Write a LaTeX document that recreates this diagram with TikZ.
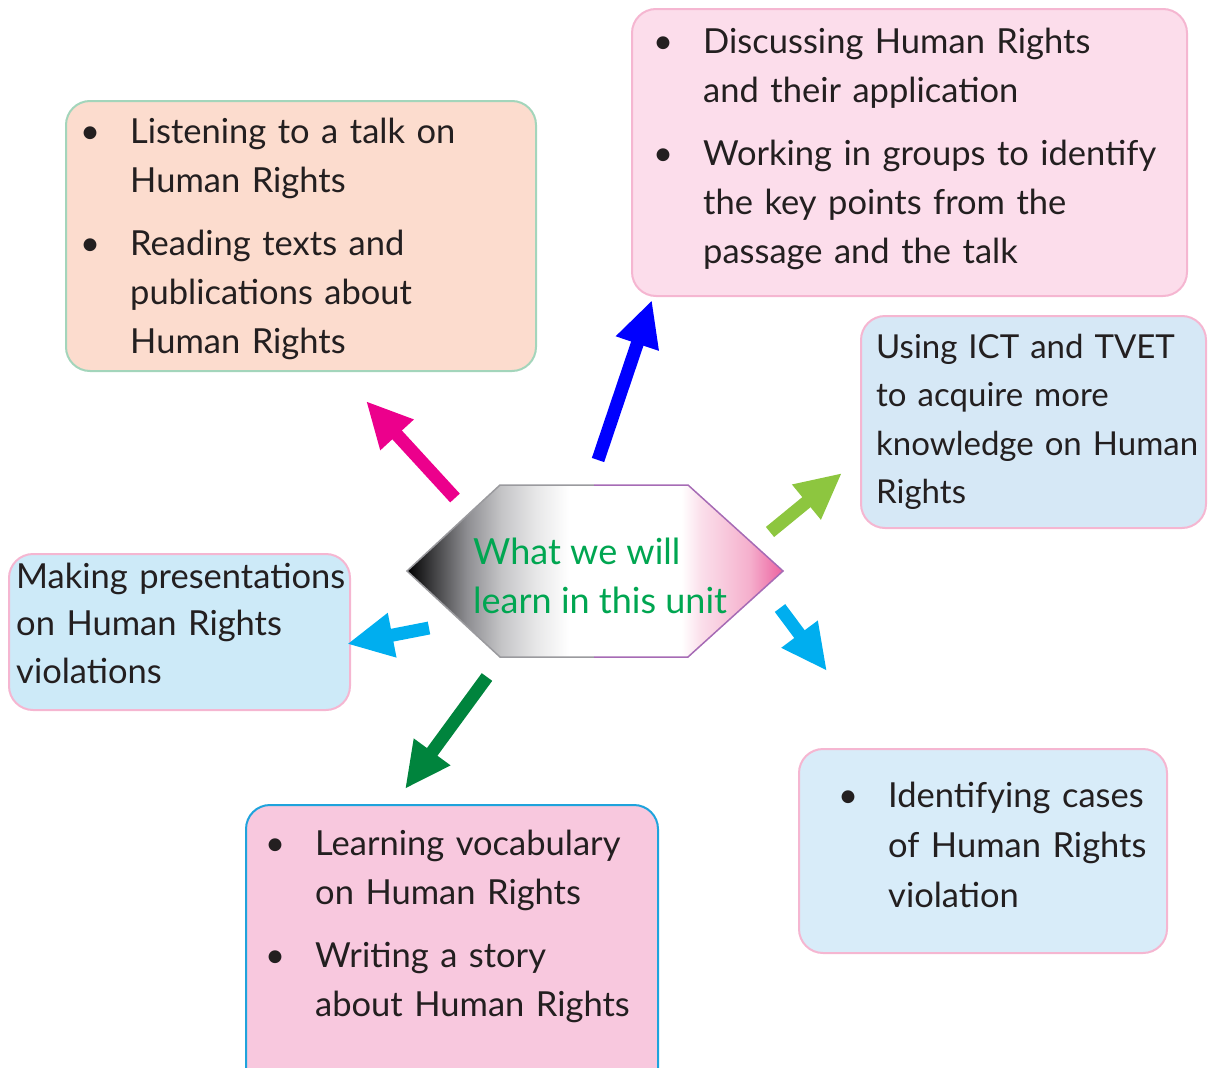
\documentclass[tikz,border=0pt]{standalone}
\usepackage{fontspec}
\setmainfont{Lato}
\usetikzlibrary{arrows.meta,positioning}
\usepackage{xcolor}
\definecolor{txtdark}{HTML}{231F20}
\definecolor{hubgreen}{HTML}{00A651}
\definecolor{peach}{HTML}{FCDCCE}
\definecolor{mint}{HTML}{A3D5BB}
\definecolor{rosefill}{HTML}{FCDDEB}
\definecolor{roseline}{HTML}{F5B6D1}
\definecolor{iceblue}{HTML}{D6E8F6}
\definecolor{skyfill}{HTML}{CDEAF8}
\definecolor{candy}{HTML}{F8C8DE}
\definecolor{cyanline}{HTML}{1FA3DC}
\definecolor{paleblue}{HTML}{D8ECF9}
\definecolor{arrmag}{HTML}{EC008C}
\definecolor{arrblue}{HTML}{0000FF}
\definecolor{arrlime}{HTML}{8DC63F}
\definecolor{arrcyan}{HTML}{00AEEF}
\definecolor{arrgreen}{HTML}{00843D}
\definecolor{hexpink}{HTML}{EC62A0}
\definecolor{hexpinkmd}{HTML}{F5B0CD}
\definecolor{hexpinklt}{HTML}{FBE0EB}
\definecolor{hexdark}{HTML}{404042}
\definecolor{hexgrey}{HTML}{8E8E92}
\definecolor{hexgreylt}{HTML}{C4C4C6}
\definecolor{hexgreyxl}{HTML}{E6E6E7}
\definecolor{hexline}{HTML}{9A9A9E}
\definecolor{hexpurple}{HTML}{A66BB5}
\pgfdeclarehorizontalshading{hexshade}{100bp}{color(0bp)=(black); color(25bp)=(black);
  color(28.5bp)=(hexdark); color(33bp)=(hexgrey); color(37.5bp)=(hexgreylt);
  color(42bp)=(hexgreyxl); color(46.5bp)=(white); color(61.5bp)=(white);
  color(64bp)=(hexpinklt); color(70.5bp)=(hexpinkmd); color(75bp)=(hexpink);
  color(100bp)=(hexpink)}
\newcommand{\bodyfont}{\fontsize{34.5}{49}\selectfont}
\newcommand{\bul}{\hangindent=50pt\hangafter=1\noindent\makebox[50pt][l]{\textbullet}}
\newcommand{\gap}{\par\vspace{14pt}}
\newcommand{\hi}{\rule{0pt}{30pt}}
\tikzset{
  panel/.style={rectangle,rounded corners=24pt,line width=2pt,anchor=north west,
                inner sep=0pt},
  btxt/.style={anchor=north west,align=left,text width=600pt,inner sep=0pt,
               font=\bodyfont,text=txtdark},
  bigarr/.style={line width=13pt,color=#1,-{Triangle[length=46pt,width=42pt]}},
  hubtxt/.style={font=\fontsize{36}{49}\selectfont,text=hubgreen,align=left},
}
\begin{document}
\begin{tikzpicture}[x=1pt,y=-1pt]
  \useasboundingbox (0,0) rectangle (1208,1068);

  % boxes
  \node[panel,draw=mint,fill=peach,minimum width=470pt,minimum height=270pt]
    (listen) at (65,100) {};
  \node[panel,draw=roseline,fill=rosefill,minimum width=555pt,minimum height=287pt]
    (discuss) at (631,8) {};
  \node[panel,draw=roseline,fill=iceblue,minimum width=345pt,minimum height=212pt]
    (ict) at (860,315) {};
  \node[panel,draw=roseline,fill=skyfill,minimum width=341pt,minimum height=156pt]
    (present) at (8,553) {};
  \node[panel,draw=cyanline,fill=candy,minimum width=412pt,minimum height=290pt]
    (vocab) at (245,804) {};
  \node[panel,draw=roseline,fill=paleblue,minimum width=368pt,minimum height=204pt]
    (cases) at (798,748) {};

  % box texts
  \node[btxt] (listen-txt) at (80,113)
    {\bul\hi Listening to a talk on\newline Human Rights\gap
     \bul Reading texts and\newline publications about\newline Human Rights\par};
  \node[btxt] (discuss-txt) at (653,23)
    {\bul\hi Discussing Human Rights\newline and their application\gap
     \bul Working in groups to identify\newline the key points from the\newline
     passage and the talk\par};
  \node[btxt,font=\fontsize{33}{48.5}\selectfont] (ict-txt) at (876,328)
    {\hi Using ICT and TVET\\to acquire more\\knowledge on Human\\Rights};
  \node[btxt,font=\fontsize{34.5}{47.5}\selectfont] (present-txt) at (16,558)
    {\hi Making presentations\\on Human Rights\\violations};
  \node[btxt] (vocab-txt) at (265,825)
    {\bul\hi Learning vocabulary\newline on Human Rights\gap
     \bul Writing a story\newline about Human Rights\par};
  \node[btxt,font=\fontsize{34.5}{50}\selectfont] (cases-txt) at (838,777)
    {\bul\hi Identifying cases\newline of Human Rights\newline violation\par};

  % centre hexagon
  \coordinate (hl) at (407,571);
  \coordinate (htl) at (500,485);
  \coordinate (htm) at (594,485);
  \coordinate (htr) at (688,485);
  \coordinate (hr) at (783,571);
  \coordinate (hbr) at (688,657);
  \coordinate (hbm) at (594,657);
  \coordinate (hbl) at (500,657);
  \shade[shading=hexshade] (hl) -- (htl) -- (htr) -- (hr) -- (hbr) -- (hbl) -- cycle;
  \draw[hexline,line width=1.5pt] (htm) -- (htl) -- (hl) -- (hbl) -- (hbm);
  \draw[hexpurple,line width=1.5pt] (htm) -- (htr) -- (hr) -- (hbr) -- (hbm);
  \node[hubtxt,anchor=base west,inner sep=0pt] (hub) at (473,613)
    {What we will\\learn in this unit};

  % arrows
  \foreach \nm/\col/\xa/\ya/\xb/\yb in {
    mag/arrmag/455/498/366/401,
    blu/arrblue/598/460/652/300,
    lim/arrlime/770/532/842/473,
    cyr/arrcyan/780/608/827/671,
    cyl/arrcyan/429/628/347/644,
    grn/arrgreen/487/677/405/789}{
    \coordinate (\nm-s) at (\xa,\ya);
    \coordinate (\nm-e) at (\xb,\yb);
    \draw[bigarr=\col] (\nm-s) -- (\nm-e);
  }
\end{tikzpicture}
\end{document}
